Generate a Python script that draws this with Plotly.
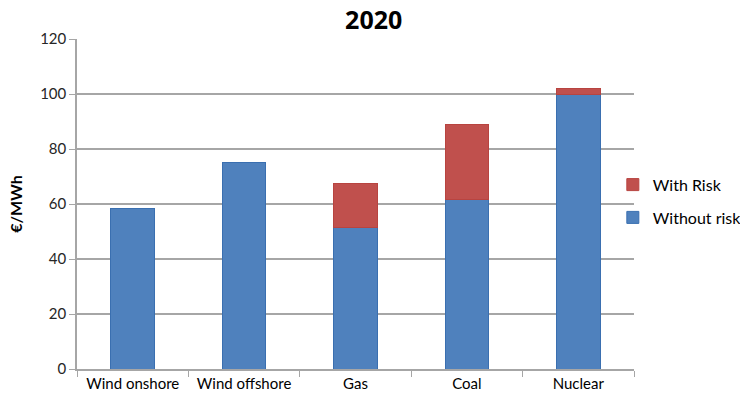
import plotly.graph_objects as go

categories = ["Wind onshore", "Wind offshore", "Gas", "Coal", "Nuclear"]
without_risk = [58.2, 75, 51.4, 61.5, 100]
with_risk_extra = [None, None, 16.1, 27.5, 2]

BLUE = "#4F81BD"
RED = "#C0504D"

fig = go.Figure()
fig.add_trace(go.Bar(x=categories, y=without_risk, name="Without risk",
                     marker=dict(color=BLUE, line=dict(color="#3A6FB0", width=1)),
                     legendgroup="b", legendrank=2))
fig.add_trace(go.Bar(x=categories, y=with_risk_extra, name="With Risk",
                     marker=dict(color=RED, line=dict(color="#B84440", width=1)),
                     legendgroup="a", legendrank=1))

fig.update_layout(
    width=740, height=405,
    barmode="stack", bargap=0.61,
    plot_bgcolor="white", paper_bgcolor="white",
    margin=dict(l=77, r=106, t=39, b=36, autoexpand=False),
    font=dict(family="Lato, Open Sans, sans-serif", color="#262626", size=15),
    title=dict(text="<b>2020</b>", x=0.505, xanchor="center", y=0.972, yanchor="top",
               font=dict(family="Open Sans, sans-serif", size=25, color="#000000")),
    legend=dict(x=0.962, y=0.61, xanchor="left", yanchor="top", traceorder="grouped",
                tracegroupgap=9, font=dict(size=16, color="#000000"),
                itemwidth=30, bgcolor="rgba(0,0,0,0)"),
    showlegend=True,
)
fig.update_yaxes(range=[0, 120], dtick=20, showgrid=True, gridcolor="#A6A6A6", gridwidth=1.5,
                 showline=True, linecolor="#A6A6A6", linewidth=1.5,
                 ticks="outside", ticklen=6, tickcolor="#A6A6A6",
                 tickfont=dict(size=15, color="#262626"),
                 title=dict(text="<b>€/MWh</b>", font=dict(size=16, color="#000000"), standoff=14),
                 zeroline=False)
fig.update_xaxes(showline=True, linecolor="#A6A6A6", linewidth=1.5,
                 ticks="outside", ticklen=6, tickcolor="#A6A6A6", tickson="boundaries",
                 tickfont=dict(size=15, color="#000000"), showgrid=False)

fig.write_html("out.html")
